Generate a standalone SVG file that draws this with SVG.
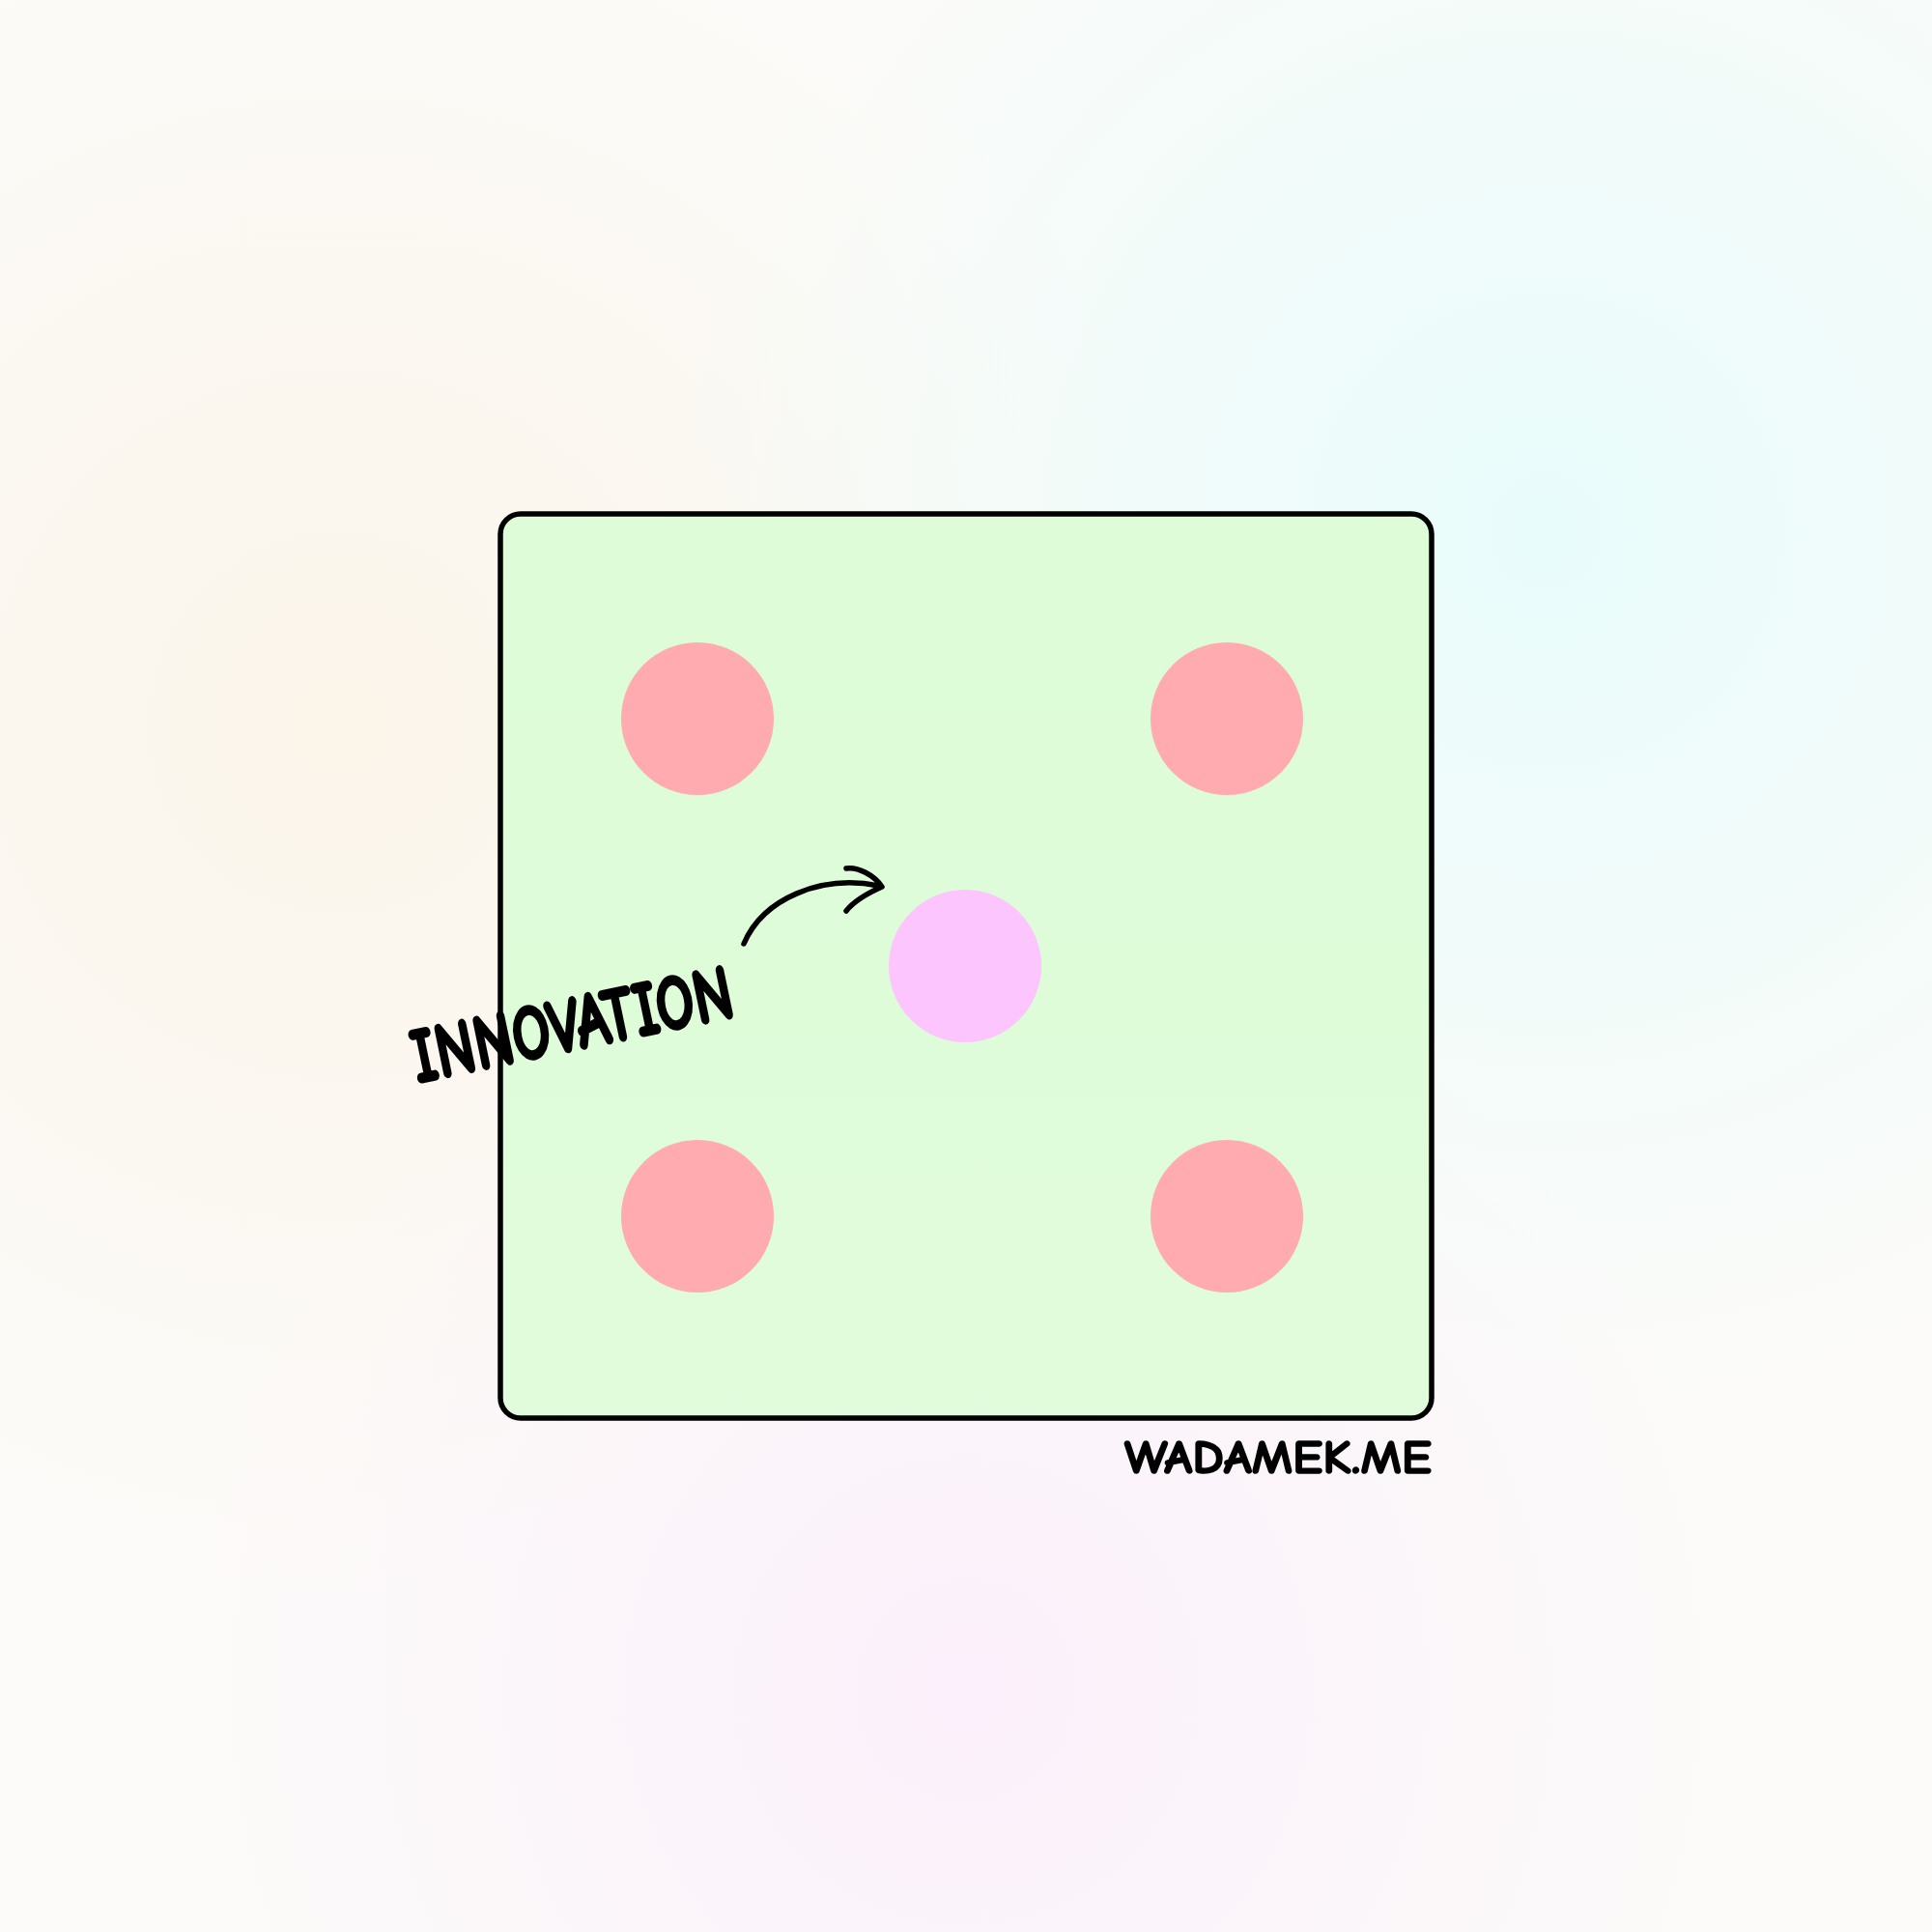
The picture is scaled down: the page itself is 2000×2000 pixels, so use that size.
<svg xmlns="http://www.w3.org/2000/svg" width="2000" height="2000" viewBox="0 0 2000 2000">
<defs>
<radialGradient id="gWarm" cx="350" cy="750" r="900" gradientUnits="userSpaceOnUse">
<stop offset="0" stop-color="#fbf5ea"/><stop offset="1" stop-color="#fbf5ea" stop-opacity="0"/>
</radialGradient>
<radialGradient id="gCyan" cx="1600" cy="550" r="900" gradientUnits="userSpaceOnUse">
<stop offset="0" stop-color="#e8fcfb"/><stop offset="1" stop-color="#e8fcfb" stop-opacity="0"/>
</radialGradient>
<radialGradient id="gPink" cx="1000" cy="1750" r="800" gradientUnits="userSpaceOnUse">
<stop offset="0" stop-color="#fbf0fb"/><stop offset="1" stop-color="#fbf0fb" stop-opacity="0"/>
</radialGradient>
<linearGradient id="gBox" x1="0" y1="0" x2="0" y2="1">
<stop offset="0" stop-color="#ddfcd7"/><stop offset="1" stop-color="#e1fcdc"/>
</linearGradient>
<style>
.dot{fill:#ffabb0}
.hand{font-family:"Comic Neue","Liberation Sans",sans-serif;font-weight:bold;fill:#000;stroke:#000;stroke-linejoin:round}
.line{fill:none;stroke:#000;stroke-width:5.5;stroke-linecap:round;stroke-linejoin:round}
</style>
</defs>
<rect width="2000" height="2000" fill="#fcfbf9"/>
<rect width="2000" height="2000" fill="url(#gWarm)"/>
<rect width="2000" height="2000" fill="url(#gCyan)"/>
<rect width="2000" height="2000" fill="url(#gPink)"/>
<g id="box">
<rect x="518" y="532" width="964" height="936" rx="21" fill="url(#gBox)" stroke="#000" stroke-width="5.5"/>
</g>
<g id="dot-tl"><circle class="dot" cx="722" cy="744" r="79"/></g>
<g id="dot-tr"><circle class="dot" cx="1270" cy="744" r="79"/></g>
<g id="dot-bl"><circle class="dot" cx="722" cy="1259" r="79"/></g>
<g id="dot-br"><circle class="dot" cx="1270" cy="1259" r="79"/></g>
<g id="dot-center"><circle cx="999" cy="1000" r="79" fill="#fdc5fd"/></g>
<g id="label-innovation">
<text class="hand" x="432" y="1121" font-size="80" stroke-width="3" textLength="338" lengthAdjust="spacingAndGlyphs" transform="rotate(-11.8 432 1121)">INNOVATION</text>
</g>
<g id="connectors">
<path class="line" d="M770 977 C790 930 850 905 910 917"/>
<path class="line" d="M876 899 C888 897 905 906 913 918 C895 926 883 934 876 943"/>
</g>
<g id="label-credit">
<text class="hand" x="1164" y="1525" font-size="49" stroke-width="1.5" textLength="318" lengthAdjust="spacingAndGlyphs">WADAMEK.ME</text>
</g>
</svg>
